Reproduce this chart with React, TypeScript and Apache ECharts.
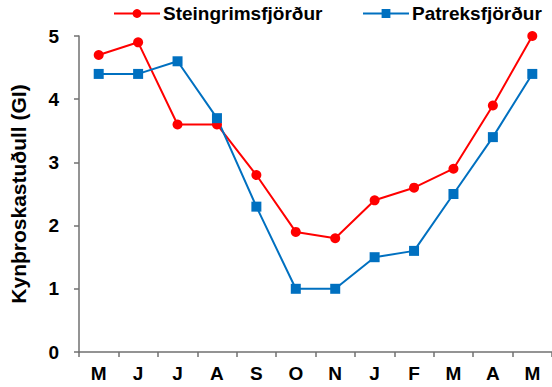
import React, { useEffect, useRef } from "react";
import * as echarts from "echarts";

const months = ["M", "J", "J", "A", "S", "O", "N", "J", "F", "M", "A", "M"];
const steingrims = [4.7, 4.9, 3.6, 3.6, 2.8, 1.9, 1.8, 2.4, 2.6, 2.9, 3.9, 5.0];
const patreks = [4.4, 4.4, 4.6, 3.7, 2.3, 1.0, 1.0, 1.5, 1.6, 2.5, 3.4, 4.4];
const yTicks = [0, 1, 2, 3, 4, 5];

export default function App() {
  const ref = useRef<HTMLDivElement>(null);
  useEffect(() => {
    const chart = echarts.init(ref.current!, null, { renderer: "svg" });
    const font = "Liberation Sans, Arial, sans-serif";
    const legendBase = {
      top: 4,
      padding: 0,
      itemGap: 0,
      itemWidth: 46,
      itemHeight: 11,
      textStyle: { fontFamily: font, fontWeight: "bold", fontSize: 19, color: "#000", padding: [0, 0, 0, -2] },
    };
    chart.setOption({
      animation: false,
      backgroundColor: "#ffffff",
      legend: [
        { ...legendBase, left: 113, data: ["Steingrimsfjörður"] },
        { ...legendBase, left: 362, data: ["Patreksfjörður"] },
      ],
      grid: { left: 73, right: 0, top: 36, bottom: 35 },
      xAxis: {
        type: "category",
        data: months,
        boundaryGap: true,
        axisLine: { lineStyle: { color: "#707070", width: 1.5 } },
        axisTick: { show: true, length: 5, lineStyle: { color: "#707070", width: 1.5 } },
        axisLabel: { fontFamily: font, fontWeight: "bold", fontSize: 19, color: "#000", margin: 12 },
      },
      yAxis: {
        type: "value",
        min: yTicks[0],
        max: yTicks[yTicks.length - 1],
        interval: 1,
        name: "Kynþroskastuðull (GI)",
        nameLocation: "middle",
        nameGap: 50,
        nameTextStyle: { fontFamily: font, fontWeight: "bold", fontSize: 21, color: "#000" },
        splitLine: { show: false },
        axisLine: { show: true, lineStyle: { color: "#707070", width: 1.5 } },
        axisTick: { show: true, length: 5, lineStyle: { color: "#707070", width: 1.5 } },
        axisLabel: { fontFamily: font, fontWeight: "bold", fontSize: 19, color: "#000", margin: 20 },
      },
      series: [
        {
          name: "Steingrimsfjörður",
          type: "line",
          data: steingrims,
          symbol: "circle",
          symbolSize: 10,
          itemStyle: { color: "#ff0000" },
          lineStyle: { color: "#ff0000", width: 2 },
        },
        {
          name: "Patreksfjörður",
          type: "line",
          data: patreks,
          symbol: "rect",
          symbolSize: 10,
          itemStyle: { color: "#0070c0" },
          lineStyle: { color: "#0070c0", width: 2 },
        },
      ],
    });
    return () => chart.dispose();
  }, []);
  return <div ref={ref} style={{ width: 552, height: 387, position: "absolute", left: 0, top: 0 }} />;
}
